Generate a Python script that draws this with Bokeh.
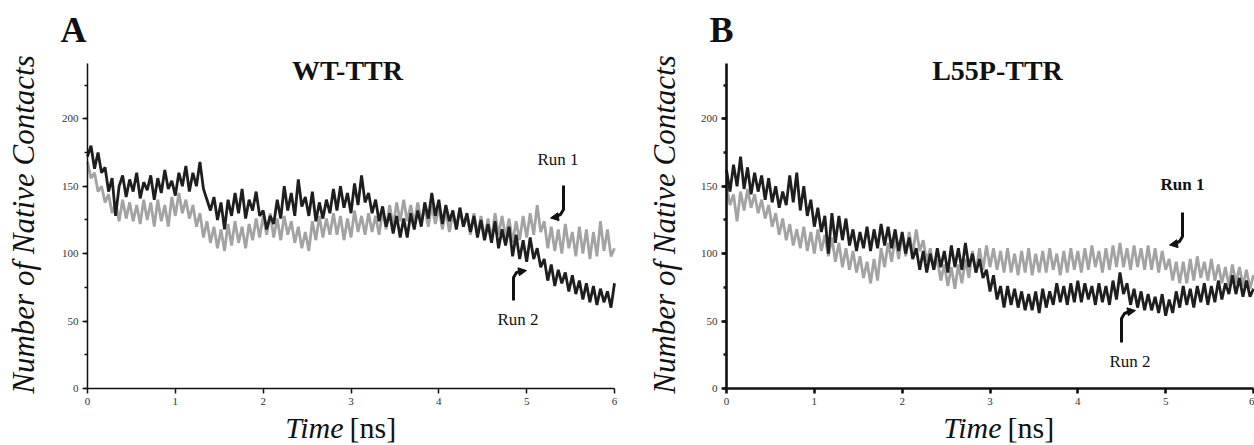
from bokeh.plotting import figure
from bokeh.layouts import row
from bokeh.models import Range1d, Label, Arrow, NormalHead, SingleIntervalTicker
from bokeh.embed import file_html
from bokeh.resources import INLINE

# ---------------- data ----------------
time_ns = [round(i * 0.04, 2) for i in range(151)]

wt_run1 = [
    168, 156, 160, 146, 150, 138, 144, 130, 138, 124,
    140, 126, 138, 124, 136, 122, 140, 125, 138, 120,
    140, 124, 136, 120, 142, 128, 145, 130, 140, 126,
    136, 120, 130, 112, 124, 108, 120, 104, 118, 102,
    122, 106, 124, 108, 120, 104, 122, 110, 126, 112,
    128, 114, 130, 112, 126, 110, 128, 114, 124, 108,
    120, 104, 116, 102, 124, 110, 128, 112, 126, 114,
    130, 114, 128, 110, 126, 112, 132, 116, 128, 114,
    130, 116, 128, 114, 132, 118, 136, 120, 138, 124,
    140, 124, 136, 122, 138, 124, 134, 120, 136, 122,
    134, 118, 132, 116, 130, 118, 134, 120, 128, 114,
    130, 114, 128, 112, 126, 110, 130, 114, 128, 112,
    126, 108, 124, 110, 128, 112, 130, 114, 136, 116,
    124, 104, 120, 102, 118, 100, 122, 104, 116, 98,
    120, 100, 118, 96, 116, 98, 124, 102, 118, 98,
    104,
]
wt_run2 = [
    172, 180, 163, 175, 160, 164, 146, 156, 128, 150,
    158, 142, 155, 146, 160, 141, 153, 147, 158, 140,
    156, 145, 162, 148, 154, 143, 160, 150, 165, 146,
    160, 150, 168, 148, 140, 132, 142, 125, 138, 118,
    140, 128, 145, 130, 148, 126, 140, 132, 146, 128,
    132, 118, 128, 122, 140, 126, 150, 132, 145, 128,
    155, 135, 142, 128, 146, 124, 138, 126, 140, 130,
    148, 132, 150, 134, 145, 130, 152, 136, 158, 138,
    145, 130, 140, 124, 135, 120, 130, 115, 128, 112,
    126, 112, 130, 118, 132, 120, 138, 126, 145, 128,
    140, 122, 136, 124, 132, 118, 134, 120, 130, 116,
    128, 112, 125, 110, 122, 108, 124, 104, 118, 106,
    120, 98, 114, 96, 110, 94, 112, 96, 104, 90,
    96, 80, 92, 76, 88, 78, 86, 72, 84, 70,
    80, 66, 78, 64, 76, 62, 74, 64, 72, 60,
    78,
]
l55p_run1 = [
    150, 136, 144, 124, 146, 132, 148, 134, 144, 130,
    140, 126, 136, 120, 130, 114, 126, 110, 122, 106,
    118, 104, 120, 102, 116, 100, 118, 102, 114, 98,
    112, 94, 108, 90, 104, 88, 102, 86, 98, 82,
    94, 78, 96, 80, 104, 90, 108, 94, 112, 96,
    114, 98, 116, 100, 118, 102, 110, 94, 104, 88,
    96, 80, 92, 76, 90, 74, 92, 78, 96, 82,
    102, 86, 104, 88, 106, 90, 104, 88, 102, 86,
    104, 86, 100, 84, 102, 86, 104, 84, 100, 86,
    102, 86, 104, 88, 100, 84, 102, 86, 104, 88,
    102, 86, 104, 88, 106, 90, 102, 86, 104, 88,
    106, 90, 108, 90, 104, 88, 106, 90, 104, 88,
    106, 88, 104, 86, 102, 88, 96, 80, 94, 78,
    94, 78, 96, 80, 98, 82, 94, 80, 96, 80,
    92, 78, 90, 76, 92, 78, 90, 76, 88, 74,
    84,
]
l55p_run2 = [
    162, 146, 166, 150, 172, 148, 164, 144, 160, 146,
    158, 140, 156, 138, 150, 134, 146, 136, 158, 138,
    160, 132, 150, 128, 140, 120, 134, 116, 128, 100,
    130, 108, 128, 110, 126, 106, 118, 102, 116, 104,
    120, 102, 118, 104, 122, 106, 120, 104, 118, 102,
    116, 100, 112, 96, 104, 88, 102, 86, 100, 88,
    104, 90, 102, 86, 106, 90, 104, 88, 108, 90,
    100, 86, 96, 82, 88, 72, 84, 66, 76, 60,
    76, 62, 74, 60, 72, 58, 70, 58, 72, 56,
    74, 60, 72, 62, 78, 64, 76, 62, 78, 64,
    80, 64, 78, 66, 76, 62, 78, 64, 76, 62,
    80, 66, 86, 70, 78, 62, 74, 60, 72, 58,
    70, 58, 68, 56, 70, 54, 66, 56, 72, 60,
    76, 62, 74, 60, 76, 64, 78, 62, 76, 64,
    80, 66, 78, 70, 84, 70, 82, 68, 80, 68,
    74,
]

panel_letters = ["A", "B"]
panel_titles = ["WT-TTR", "L55P-TTR"]
x_tick_step = 1
y_tick_step = 50

# ---------------- layout constants (picture pixels) ----------------
SERIF = "Liberation Serif"
GRAY = "#a3a3a3"
DARK = "#1e1e1e"
XMAX, YMAX = 6, 241
FRAME_W, FRAME_H = 527, 325          # pixel size of the 0..6 x 0..241 data box
PLOT_BOTTOM = 388                     # picture y of y=0
PAGE_TOP = 0
FIG_H = 445
BASELINE_FIX = 0.37                   # label anchor sits this many em above the drawn baseline


def make_panel(letter, title, run1, run2, zero_x, fig_left, fig_w, axis_w,
               ylab_x, letter_x, title_cx, time_cx, run_pos, run1_bold):
    sx = FRAME_W / XMAX
    sy = FRAME_H / YMAX

    def dx(px):
        return (px - zero_x) / sx

    def dy(py):
        return (PLOT_BOTTOM - py) / sy

    x_range = Range1d(dx(fig_left), dx(fig_left + fig_w))
    y_range = Range1d(dy(PAGE_TOP + FIG_H), dy(PAGE_TOP))

    p = figure(width=fig_w, height=FIG_H, output_backend="svg", toolbar_location=None,
               x_range=x_range, y_range=y_range, title=None,
               min_border=0, min_border_left=0, min_border_right=0,
               min_border_top=0, min_border_bottom=0,
               background_fill_color="white", border_fill_color="white")
    p.outline_line_color = None
    p.grid.visible = False

    p.line(time_ns, run1, line_color=GRAY, line_width=2.8)
    p.line(time_ns, run2, line_color=DARK, line_width=2.8)

    p.xaxis.fixed_location = 0
    p.yaxis.fixed_location = 0
    p.xaxis.bounds = (0, XMAX)
    p.yaxis.bounds = (0, YMAX)
    p.xaxis.ticker = SingleIntervalTicker(interval=x_tick_step, num_minor_ticks=0)
    p.yaxis.ticker = SingleIntervalTicker(interval=y_tick_step, num_minor_ticks=2)
    for ax in (p.xaxis, p.yaxis):
        ax.axis_line_width = axis_w
        ax.axis_line_color = "#111111"
        ax.major_tick_line_width = axis_w
        ax.major_tick_line_color = "#111111"
        ax.minor_tick_line_width = axis_w
        ax.minor_tick_line_color = "#111111"
        ax.major_tick_in = 0
        ax.major_tick_out = 5
        ax.minor_tick_in = 0
        ax.minor_tick_out = 3
        ax.major_label_text_font = SERIF
        ax.major_label_text_font_size = "11px"
        ax.major_label_text_color = "#333333"
        ax.major_label_standoff = 4

    def label(px, py, text, size, style="normal", align="left", angle=0):
        shift = BASELINE_FIX * size
        if angle:
            px = px - shift
        else:
            py = py - shift
        p.add_layout(Label(x=dx(px), y=dy(py), text=text, text_font=SERIF,
                           text_font_size=f"{size}px", text_font_style=style,
                           text_align=align, text_baseline="alphabetic",
                           text_color="#111111", angle=angle, angle_units="deg"))

    label(letter_x, 43, letter, 36, "bold")
    label(title_cx, 80, title, 28, "bold", "center")
    label(ylab_x, 224, "Number of Native Contacts", 31, "italic", "center", 90)
    label(time_cx - 2, 438, "Time", 30, "italic", "right")
    label(time_cx + 4, 438, "[ns]", 30, "normal", "left")

    # Run annotations
    (r1x, r1y, r1path, r1h), (r2x, r2y, r2path, r2h) = run_pos
    label(r1x, r1y, "Run 1", 17, "bold" if run1_bold else "normal")
    label(r2x, r2y, "Run 2", 17)
    for path, head in ((r1path, r1h), (r2path, r2h)):
        p.line([dx(q[0]) for q in path], [dy(q[1]) for q in path],
               line_color="#111111", line_width=3)
        p.add_layout(Arrow(end=NormalHead(size=8, fill_color="#111111", line_color="#111111"),
                           x_start=dx(head[0][0]), y_start=dy(head[0][1]),
                           x_end=dx(head[1][0]), y_end=dy(head[1][1]),
                           line_width=2, line_color="#111111"))
    return p


pA = make_panel(panel_letters[0], panel_titles[0], wt_run1, wt_run2,
                zero_x=87, fig_left=0, fig_w=642, axis_w=1.5,
                ylab_x=34, letter_x=60, title_cx=347, time_cx=345,
                run_pos=((537, 165, [(563, 185), (563, 209), (560, 214), (555, 216)],
                          ((556, 216.5), (550, 217.5))),
                         (497, 325, [(513, 300), (513, 277), (516, 272), (521, 271)],
                          ((520, 271), (526, 270)))),
                run1_bold=False)

pB = make_panel(panel_letters[1], panel_titles[1], l55p_run1, l55p_run2,
                zero_x=726, fig_left=642, fig_w=612, axis_w=2.6,
                ylab_x=675, letter_x=709, title_cx=997, time_cx=1003,
                run_pos=((1160, 190, [(1182, 212), (1182, 236), (1179, 241), (1174, 243)],
                          ((1175, 243.5), (1169, 244.5))),
                         (1109, 367, [(1121, 342), (1121, 318), (1124, 313), (1129, 311)],
                          ((1129, 311), (1135, 310)))),
                run1_bold=True)

layout = row(pA, pB)
open("out.html", "w").write(file_html(layout, INLINE))
